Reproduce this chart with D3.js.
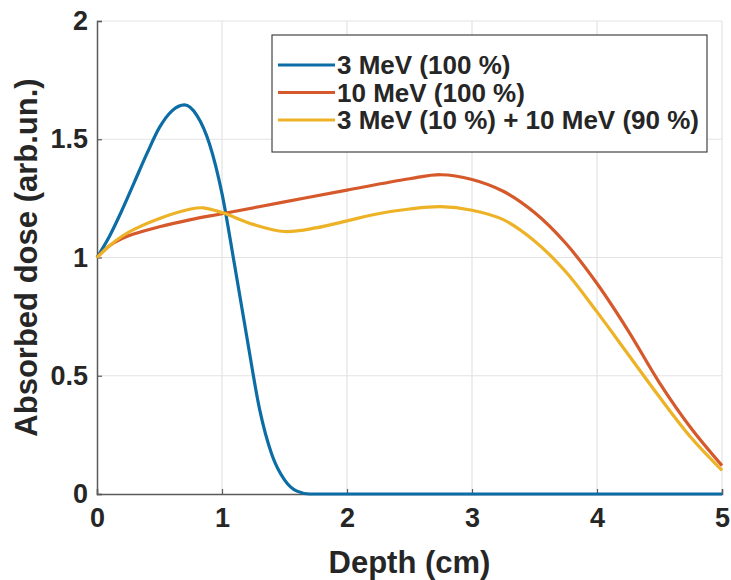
<!DOCTYPE html>
<html>
<head>
<meta charset="utf-8">
<script src="https://cdn.jsdelivr.net/npm/d3@7"></script>
<style>
  body { margin: 0; background: #fff; }
  text { font-family: "Liberation Sans", Arial, sans-serif; font-weight: bold; fill: #262626; }
</style>
</head>
<body>
<div id="vis"></div>
<script>
// depth (cm) samples and absorbed dose
var blueDepth = [0, 0.1, 0.2, 0.3, 0.4, 0.5, 0.6, 0.7, 0.8, 0.9, 1.0, 1.1, 1.2, 1.3, 1.4, 1.5, 1.6, 1.7, 2, 3, 4, 5];
var blueDose  = [1.0, 1.09, 1.2, 1.32, 1.44, 1.55, 1.62, 1.645, 1.6, 1.48, 1.27, 0.97, 0.66, 0.36, 0.165, 0.06, 0.012, 0, 0, 0, 0, 0];

var orangeDepth = [0, 0.1, 0.2, 0.3, 0.5, 0.75, 1.0, 1.5, 2.0, 2.5, 2.75, 3.0, 3.25, 3.5, 3.75, 4.0, 4.25, 4.5, 4.75, 5.0];
var orangeDose  = [1.0, 1.05, 1.08, 1.1, 1.13, 1.16, 1.185, 1.235, 1.285, 1.333, 1.35, 1.33, 1.28, 1.19, 1.06, 0.89, 0.69, 0.47, 0.28, 0.12];

var yellowDepth = [0, 0.1, 0.2, 0.3, 0.5, 0.75, 0.85, 1.0, 1.25, 1.5, 1.75, 2.0, 2.25, 2.5, 2.75, 3.0, 3.25, 3.5, 3.75, 4.0, 4.25, 4.5, 4.75, 5.0];
var yellowDose  = [1.0, 1.05, 1.09, 1.12, 1.165, 1.205, 1.21, 1.19, 1.14, 1.11, 1.125, 1.155, 1.185, 1.205, 1.215, 1.2, 1.16, 1.07, 0.94, 0.77, 0.59, 0.41, 0.24, 0.1];

var seriesNames = ["3 MeV (100 %)", "10 MeV (100 %)", "3 MeV (10 %) + 10 MeV (90 %)"];
var seriesColors = ["#0C6CA6", "#D5592A", "#EDB226"];

var xTicks = [0, 1, 2, 3, 4, 5];
var yTicks = [0, 0.5, 1, 1.5, 2];

var width = 731, height = 580;
var margin = {top: 21, right: 9, bottom: 86, left: 97};

var svg = d3.select("#vis").append("svg")
    .attr("width", width).attr("height", height);

var x = d3.scaleLinear().domain([0, 5]).range([margin.left, width - margin.right]);
var y = d3.scaleLinear().domain([0, 2]).range([height - margin.bottom, margin.top]);

// grid
svg.append("g").selectAll("line").data(xTicks.slice(1)).enter().append("line")
    .attr("x1", function(d) { return x(d); }).attr("x2", function(d) { return x(d); })
    .attr("y1", y(0)).attr("y2", y(2))
    .attr("stroke", "#e3e3e3").attr("stroke-width", 1.2);
svg.append("g").selectAll("line").data(yTicks.slice(1)).enter().append("line")
    .attr("x1", x(0)).attr("x2", x(5))
    .attr("y1", function(d) { return y(d); }).attr("y2", function(d) { return y(d); })
    .attr("stroke", "#e3e3e3").attr("stroke-width", 1.2);

// axes
var xAxis = svg.append("g").attr("transform", "translate(0," + y(0) + ")")
    .call(d3.axisBottom(x).tickValues(xTicks).tickSize(-5).tickPadding(14).tickFormat(d3.format("d")));
var yAxis = svg.append("g").attr("transform", "translate(" + x(0) + ",0)")
    .call(d3.axisLeft(y).tickValues(yTicks).tickSize(-5).tickPadding(9).tickFormat(function(d) { return String(d); }));

[xAxis, yAxis].forEach(function(a) {
  a.select(".domain").attr("stroke", "#5a5a5a").attr("stroke-width", 1.5);
  a.selectAll(".tick line").attr("stroke", "#5a5a5a").attr("stroke-width", 1.2);
  a.selectAll(".tick text").attr("font-size", 27).attr("font-family", "Liberation Sans, Arial, sans-serif")
    .attr("font-weight", "bold").attr("fill", "#262626");
});
xAxis.selectAll(".tick text").attr("dy", "0.71em");

// curves
var curves = [
  d3.zip(blueDepth, blueDose),
  d3.zip(orangeDepth, orangeDose),
  d3.zip(yellowDepth, yellowDose)
];
var curveTypes = [d3.curveMonotoneX, d3.curveCatmullRom.alpha(0.5), d3.curveCatmullRom.alpha(0.5)];

svg.append("g").selectAll("path").data(curves).enter().append("path")
    .attr("d", function(d, i) {
      return d3.line().curve(curveTypes[i])
        .x(function(p) { return x(p[0]); }).y(function(p) { return y(p[1]); })(d);
    })
    .attr("fill", "none")
    .attr("stroke", function(d, i) { return seriesColors[i]; })
    .attr("stroke-width", 3.2)
    .attr("stroke-linejoin", "round");

// legend
var lg = svg.append("g");
lg.append("rect").attr("x", 272).attr("y", 35).attr("width", 435).attr("height", 117)
    .attr("fill", "#fff").attr("stroke", "#444").attr("stroke-width", 1.2);
var rows = lg.selectAll("g.row").data(seriesNames).enter().append("g")
    .attr("transform", function(d, i) { return "translate(278," + (65 + i * 27.5) + ")"; });
rows.append("line").attr("x1", 0).attr("x2", 57).attr("y1", 0).attr("y2", 0)
    .attr("stroke", function(d, i) { return seriesColors[i]; }).attr("stroke-width", 3);
rows.append("text").attr("x", 59).attr("dy", "0.36em").attr("font-size", 26)
    .text(function(d) { return d; });

// axis titles
svg.append("text").attr("x", x(2.5)).attr("y", 573).attr("text-anchor", "middle")
    .attr("font-size", 31).text("Depth (cm)");
svg.append("text").attr("transform", "translate(37," + y(1) + ") rotate(-90)")
    .attr("text-anchor", "middle").attr("font-size", 31).text("Absorbed dose (arb.un.)");
</script>
</body>
</html>
